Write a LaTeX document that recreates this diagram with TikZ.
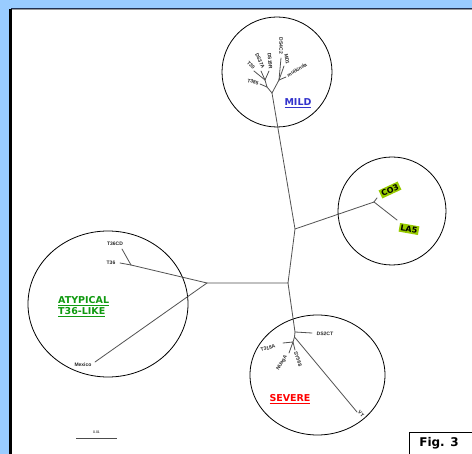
\documentclass[tikz,border=0pt]{standalone}
\usepackage{fontspec}
\setmainfont{Liberation Sans}
\newfontfamily\verd{DejaVu Sans}
\definecolor{bgblue}{HTML}{99CCFF}
\definecolor{tagreen}{HTML}{99CC00}
\definecolor{mildblue}{HTML}{3333CC}
\definecolor{atygreen}{HTML}{109A10}
\definecolor{sevred}{HTML}{FF0000}
\definecolor{topdark}{HTML}{203050}
\begin{document}
\begin{tikzpicture}[x=1pt,y=-1pt,
  br/.style={draw=black!68, line width=0.8pt, line cap=round},
  ring/.style={draw=black, line width=0.8pt},
  lbl/.style={font=\fontsize{5}{5}\selectfont\bfseries, inner sep=0pt, text=black!85},
  grp/.style={font=\verd\bfseries\fontsize{9.5}{11.5}\selectfont, inner sep=0pt},
  tagbox/.style={fill=tagreen, font=\verd\bfseries\fontsize{8}{8.5}\selectfont, inner sep=1.4pt}]
\useasboundingbox (0,0) rectangle (472,454);
\fill[bgblue] (0,0) rectangle (472,454);
\fill[white] (11,9) rectangle (472,454);
\draw[topdark, line width=1pt] (11,8.5) -- (472,8.5);
\draw[black!40, line width=0.6pt] (12,9.6) -- (472,9.6);
\draw[black, line width=3pt] (10.5,9) -- (10.5,454);

% circles
\draw[ring] (277,72) circle (55);
\draw[ring] (392,211) circle (54);
\draw[ring] (108,304) ellipse (80 and 73);
\draw[ring] (317.5,375) ellipse (67.5 and 60);

% tree junctions
\coordinate (c1) at (207,283);
\coordinate (c2) at (288,283);
\coordinate (c3) at (295,229);
\coordinate (m0) at (272,93);
\coordinate (ma) at (279,80);
\coordinate (mb) at (267,87);
\coordinate (mc) at (265,80);
\coordinate (co) at (374,202);
\coordinate (s0) at (295,332);
\coordinate (s0b) at (294.5,337);
\coordinate (s1) at (293,342);
\coordinate (a1) at (131,265);
% leaves
\coordinate (lMex) at (95,362);
\coordinate (lT36) at (120,263);
\coordinate (lT36CD) at (122,249);
\coordinate (lCO3) at (377,198);
\coordinate (lLA5) at (397,220);
\coordinate (lDS2CT) at (312,333);
\coordinate (lT318A) at (283,343);
\coordinate (lNUagA) at (289,353);
\coordinate (lSY568) at (295,350);
\coordinate (lVT) at (357,412);
\coordinate (lDS4C2) at (281,58);
\coordinate (lMD1) at (284,66);
\coordinate (lMult) at (286,77);
\coordinate (lT385) at (260,84);
\coordinate (lT30) at (254,71);
\coordinate (lDS37A) at (261,71);
\coordinate (lDS19R) at (269,71);

% branches
\draw[br] (c1) -- (c2) -- (c3) -- (m0);
\draw[br] (c3) -- (co);
\draw[br] (co) -- (lCO3);
\draw[br] (co) -- (lLA5);
\draw[br] (c1) -- (a1);
\draw[br] (c1) -- (lMex);
\draw[br] (a1) -- (lT36);
\draw[br] (a1) -- (lT36CD);
\draw[br] (c2) -- (s0) -- (s0b) -- (s1);
\draw[br] (s0) -- (lDS2CT);
\draw[br] (s0b) -- (lVT);
\draw[br] (s1) -- (lT318A);
\draw[br] (s1) -- (lNUagA);
\draw[br] (s1) -- (lSY568);
\draw[br] (m0) -- (ma);
\draw[br] (ma) -- (lDS4C2);
\draw[br] (ma) -- (lMD1);
\draw[br] (ma) -- (lMult);
\draw[br] (m0) -- (mb);
\draw[br] (mb) -- (lT385);
\draw[br] (mb) -- (mc);
\draw[br] (mc) -- (lT30);
\draw[br] (mc) -- (lDS37A);
\draw[br] (mc) -- (lDS19R);

% leaf labels
\node[lbl] (tMex) at (83,365) {Mexico};
\node[lbl] (tT36) at (111,263) {T36};
\node[lbl] (tT36CD) at (115,244) {T36CD};
\node[lbl, rotate=-3] (tDS2CT) at (325,334) {DS2CT};
\node[lbl, rotate=15] (tT318A) at (268,348) {T318A};
\node[lbl, rotate=60] (tNUagA) at (282,363) {NUagA};
\node[lbl, rotate=-70] (tSY568) at (298,359) {SY568};
\node[lbl, rotate=-45] (tVT) at (361,414) {VT};
\node[lbl, rotate=-90] (tDS4C2) at (281,46) {DS4C2};
\node[lbl, rotate=-80] (tMD1) at (287,59) {MD1};
\node[lbl, rotate=30] (tMult) at (297,70) {mulkinda};
\node[lbl, rotate=-85] (tDS19R) at (270,61) {DS19R};
\node[lbl, rotate=-65] (tDS37A) at (260,61) {DS37A};
\node[lbl, rotate=-45] (tT30) at (251,65) {T30};
\node[lbl, rotate=-15] (tT385) at (253,82) {T385};

% tags
\node[tagbox, rotate=25] (tCO3) at (390,190) {CO3};
\node[tagbox, rotate=-10] (tLA5) at (409,229) {LA5};

% group labels
\node[grp, text=mildblue] (gMild) at (298,103) {\underline{MILD}};
\node[grp, text=sevred] (gSev) at (290,399) {\underline{SEVERE}};
\node[grp, text=atygreen, align=left, anchor=north west] (gAty) at (58,296) {\underline{ATYPICAL}\\\underline{T36-LIKE}};

% scale bar
\coordinate (sb1) at (76,438);
\coordinate (sb2) at (117,438);
\draw[black!70, line width=0.8pt] (sb1) -- (sb2);
\node[font=\fontsize{3.5}{4}\selectfont, inner sep=0pt] (sbl) at (96.5,432) {0.01};

% fig label
\draw[black, line width=0.9pt, fill=white] (409,432) rectangle (473,455);
\node[font=\verd\bfseries\fontsize{12}{13}\selectfont, inner sep=0pt] (fig) at (439,443) {Fig. 3};
\end{tikzpicture}
\end{document}
